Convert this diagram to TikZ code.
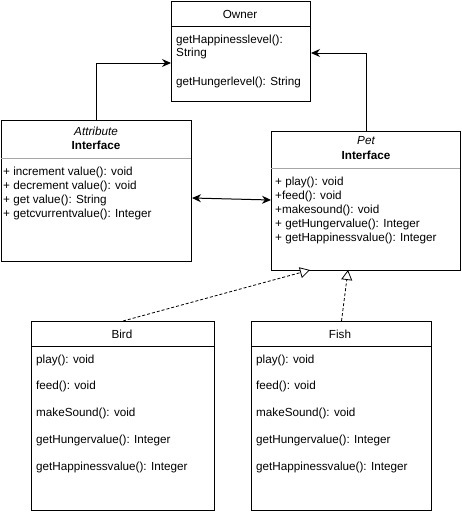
\documentclass[tikz,border=0pt]{standalone}
\usepackage{fontspec}
\setmainfont{Liberation Sans}
\usetikzlibrary{arrows.meta}
\begin{document}
\begin{tikzpicture}[x=1pt,y=-1pt,every node/.style={font=\fontsize{11.7}{12.5}\selectfont, inner sep=0pt},
  box/.style={draw, line width=1pt, anchor=north west, inner sep=0pt},
  row/.style={anchor=west},
  assoc/.style={line width=1pt, -{Stealth[length=9pt,width=8pt]}},
  realize/.style={line width=0.8pt, dashed, dash pattern=on 3pt off 2pt, -{Triangle[open,length=10pt,width=11pt,fill=white]}}]
\useasboundingbox (0,0) rectangle (461,514);
% owner
\node[box, minimum width=139, minimum height=100] (owner) at (171,1) {};
\draw[line width=1pt] (171,26) -- (310,26);
\node (ownername) at (240,14) {Owner};
\node[row, align=left] (ownerhappy) at (176,47) {getHappinesslevel():\\String};
\node[row] (ownerhunger) at (176,82) {getHungerlevel(): String};
% attribute interface
\node[box, minimum width=190, minimum height=141] (attr) at (1,120) {};
\draw[line width=0.8pt, gray!70] (1,158) -- (191,158);
\node (attrname) at (96,131) {\itshape Attribute};
\node (attrkind) at (96,145) {\bfseries Interface};
\node[row] (attrrow1) at (3,172) {+ increment value(): void};
\node[row] (attrrow2) at (3,186) {+ decrement value(): void};
\node[row] (attrrow3) at (3,200) {+ get value(): String};
\node[row] (attrrow4) at (3,214) {+ getcvurrentvalue(): Integer};
% pet interface
\node[box, minimum width=189, minimum height=139] (pet) at (271,131) {};
\draw[line width=0.8pt, gray!70] (271,168) -- (460,168);
\node (petname) at (366,141) {\itshape Pet};
\node (petkind) at (366,155) {\bfseries Interface};
\node[row] (petrow1) at (275,182) {+ play(): void};
\node[row] (petrow2) at (275,196) {+feed(): void};
\node[row] (petrow3) at (275,210) {+makesound(): void};
\node[row] (petrow4) at (275,224) {+ getHungervalue(): Integer};
\node[row] (petrow5) at (275,238) {+ getHappinessvalue(): Integer};
% bird
\node[box, minimum width=183, minimum height=189] (bird) at (31,321) {};
\draw[line width=1pt] (31,346) -- (214,346);
\node (birdname) at (122,334) {Bird};
\node[row] (birdrow1) at (36,360) {play(): void};
\node[row] (birdrow2) at (36,386) {feed(): void};
\node[row] (birdrow3) at (36,413) {makeSound(): void};
\node[row] (birdrow4) at (36,440) {getHungervalue(): Integer};
\node[row] (birdrow5) at (36,467) {getHappinessvalue(): Integer};
% fish
\node[box, minimum width=180, minimum height=189] (fish) at (251,321) {};
\draw[line width=1pt] (251,346) -- (431,346);
\node (fishname) at (340,334) {Fish};
\node[row] (fishrow1) at (256,360) {play(): void};
\node[row] (fishrow2) at (256,386) {feed(): void};
\node[row] (fishrow3) at (256,413) {makeSound(): void};
\node[row] (fishrow4) at (256,440) {getHungervalue(): Integer};
\node[row] (fishrow5) at (256,467) {getHappinessvalue(): Integer};
% links
\draw[assoc] (attr.north) |- (owner.west |- 0,63);
\draw[assoc] (pet.north) |- (owner.east |- 0,53);
\draw[assoc, {Stealth[length=9pt,width=8pt]}-{Stealth[length=9pt,width=8pt]}] (attr.east |- 0,198) -- (pet.west |- 0,200);
\draw[realize] (bird.north) -- (310,270);
\draw[realize] (fish.north) -- (348,270);
\end{tikzpicture}
\end{document}
